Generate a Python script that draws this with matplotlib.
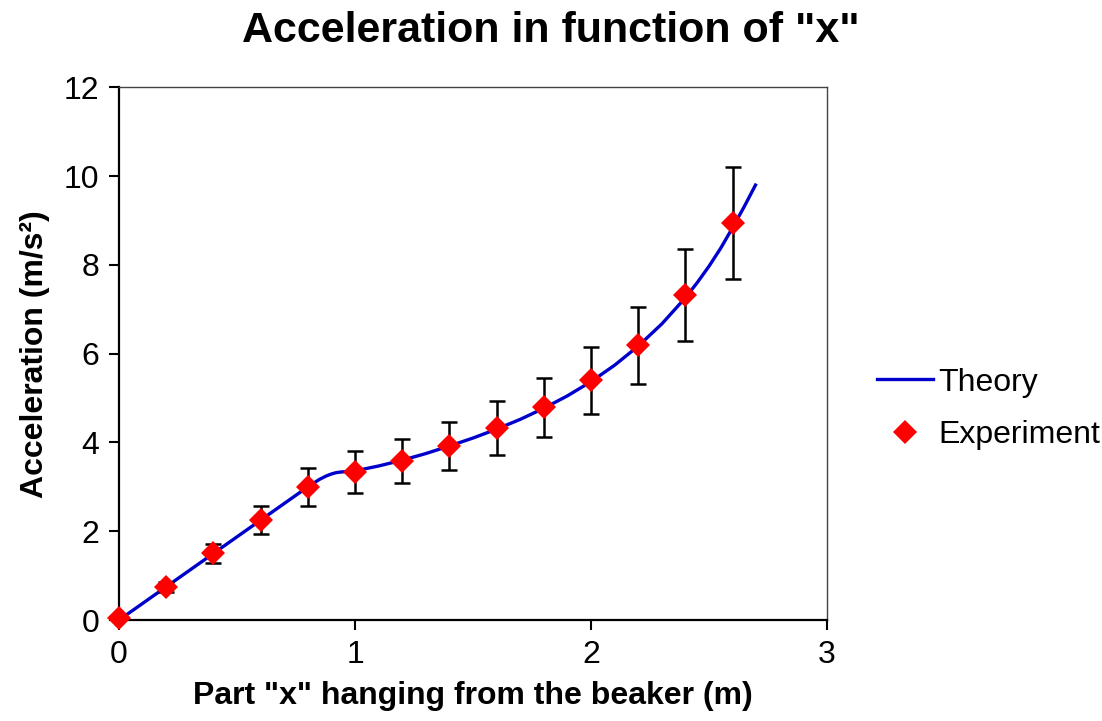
import matplotlib
matplotlib.use("Agg")
import matplotlib.pyplot as plt
from matplotlib.lines import Line2D

plt.rcParams['font.family'] = ['Liberation Sans', 'DejaVu Sans']

# Theory curve
theory_x = [0.0, 0.1, 0.2, 0.3, 0.4, 0.5, 0.6, 0.7, 0.8, 0.85, 0.88, 0.9, 0.92, 0.94, 0.97,
            1.0, 1.1, 1.2, 1.3, 1.4, 1.5, 1.6, 1.7, 1.8, 1.9, 2.0, 2.1, 2.2, 2.3,
            2.4, 2.45, 2.5, 2.55, 2.6, 2.65, 2.7]
theory_y = [0.0, 0.375, 0.75, 1.125, 1.5, 1.875, 2.25, 2.625, 3.0, 3.17, 3.25, 3.29, 3.32, 3.335, 3.345,
            3.36, 3.47, 3.60, 3.75, 3.92, 4.10, 4.30, 4.52, 4.77, 5.05, 5.37, 5.74, 6.17, 6.67,
            7.26, 7.60, 7.97, 8.38, 8.84, 9.32, 9.83]

# Experiment points with error bars
exp_x = [0.0, 0.2, 0.4, 0.6, 0.8, 1.0, 1.2, 1.4, 1.6, 1.8, 2.0, 2.2, 2.4, 2.6]
exp_y = [0.05, 0.75, 1.50, 2.25, 3.00, 3.33, 3.58, 3.92, 4.32, 4.79, 5.40, 6.19, 7.32, 8.95]
exp_err = [0.01, 0.11, 0.22, 0.32, 0.42, 0.47, 0.50, 0.55, 0.61, 0.67, 0.76, 0.87, 1.03, 1.26]

x_ticks = [0, 1, 2, 3]
y_ticks = [0, 2, 4, 6, 8, 10, 12]

fig = plt.figure(figsize=(11.02, 7.21), dpi=100)
ax = fig.add_axes([0.108, 0.140, 0.6425, 0.739])

ax.plot(theory_x, theory_y, color='#0000CC', lw=2.4, zorder=2, solid_capstyle='butt',
        solid_joinstyle='round')
ax.errorbar(exp_x, exp_y, yerr=exp_err, fmt='none', ecolor='black', elinewidth=1.8,
            capsize=5.5, capthick=1.8, zorder=3)
ax.plot(exp_x, exp_y, linestyle='none', marker='D', color='#FF0000', markersize=12.5,
        markeredgewidth=0, zorder=4, clip_on=False)

ax.set_xlim(0, 3)
ax.set_ylim(0, 12)
ax.set_xticks(x_ticks)
ax.set_yticks(y_ticks)
ax.tick_params(axis='both', direction='out', length=7, width=1.5, labelsize=23, pad=7)
for side in ['left', 'bottom']:
    ax.spines[side].set_linewidth(1.6)
for side in ['top', 'right']:
    ax.spines[side].set_linewidth(1.0)
    ax.spines[side].set_color('#444444')

fig.text(0.5, 1 - 31 / 721, 'Acceleration in function of "x"', fontsize=31,
         fontweight='bold', ha='center', va='center')
ax.set_xlabel('Part "x" hanging from the beaker (m)', fontsize=23, fontweight='bold', labelpad=8)
ax.set_ylabel('Acceleration (m/s²)', fontsize=23, fontweight='bold', labelpad=10)

handles = [Line2D([], [], color='#0000CC', lw=2.4),
           Line2D([], [], linestyle='none', marker='D', color='#FF0000', markersize=12.5,
                  markeredgewidth=0)]
fig.legend(handles, ['Theory', 'Experiment'], loc='center left',
           bbox_to_anchor=(0.770, 0.433), frameon=False, fontsize=23,
           handlelength=1.75, handletextpad=0.15, labelspacing=0.7)

fig.savefig('out.png', dpi=100)
